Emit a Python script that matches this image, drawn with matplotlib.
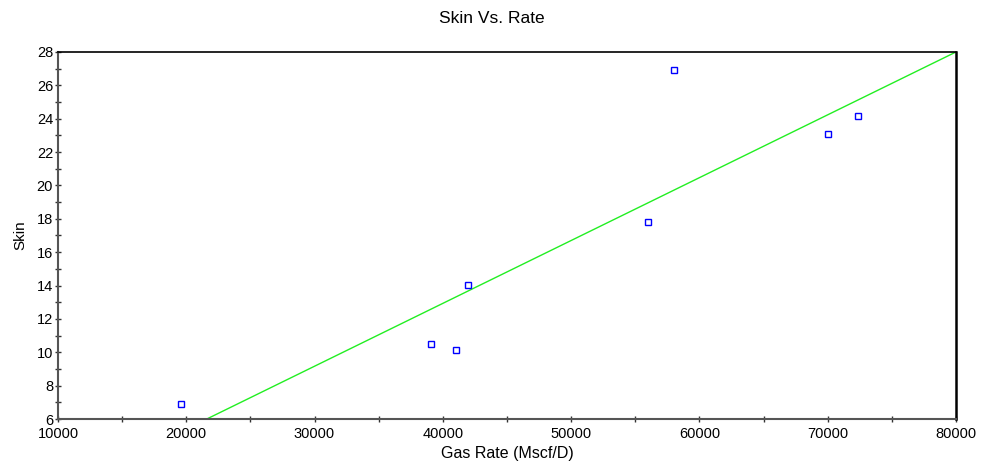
import matplotlib
matplotlib.use("Agg")
import matplotlib.pyplot as plt
from matplotlib.ticker import MultipleLocator

plt.rcParams['font.family'] = ['Liberation Sans', 'DejaVu Sans']

# measured points
gas_rate = [19600, 39100, 41000, 42000, 56000, 58000, 70000, 72400]
skin = [6.9, 10.5, 10.13, 14.03, 17.8, 26.92, 23.08, 24.16]

# straight line fit shown on the chart
fit_rate = [21600, 80000]
fit_skin = [6.0, 28.0]

fig = plt.figure(figsize=(9.84, 4.65), dpi=100)
ax = fig.add_axes([0.0589, 0.0989, 0.9126, 0.7893])

ax.plot(fit_rate, fit_skin, color='#22ee22', lw=1.0, zorder=2)
ax.plot(gas_rate, skin, ls='none', marker='s', ms=4.5, mfc='white',
        mec='#0000ff', mew=1.0, zorder=3)

ax.set_xlim(10000, 80000)
ax.set_ylim(6, 28)
ax.xaxis.set_major_locator(MultipleLocator(10000))
ax.xaxis.set_minor_locator(MultipleLocator(5000))
ax.yaxis.set_major_locator(MultipleLocator(2))
ax.yaxis.set_minor_locator(MultipleLocator(1))
ax.tick_params(which='both', direction='inout', color='#333333', width=1.0,
               labelsize=10.5, labelcolor='black')
ax.tick_params(which='major', length=5)
ax.tick_params(which='minor', length=4)
ax.tick_params(axis='y', which='major', pad=1)
ax.tick_params(axis='x', which='major', pad=3)

for side in ['left', 'bottom']:
    ax.spines[side].set_color('#555555')
    ax.spines[side].set_linewidth(1.5)
ax.spines['top'].set_color('black')
ax.spines['top'].set_linewidth(1.2)
ax.spines['right'].set_color('black')
ax.spines['right'].set_linewidth(1.8)

ax.set_xlabel('Gas Rate (Mscf/D)', fontsize=11.5, labelpad=4)
ax.set_ylabel('Skin', fontsize=11, labelpad=7)
fig.text(0.5, 0.961, 'Skin Vs. Rate', ha='center', va='center', fontsize=12.5)

fig.savefig('out.png', dpi=100)
